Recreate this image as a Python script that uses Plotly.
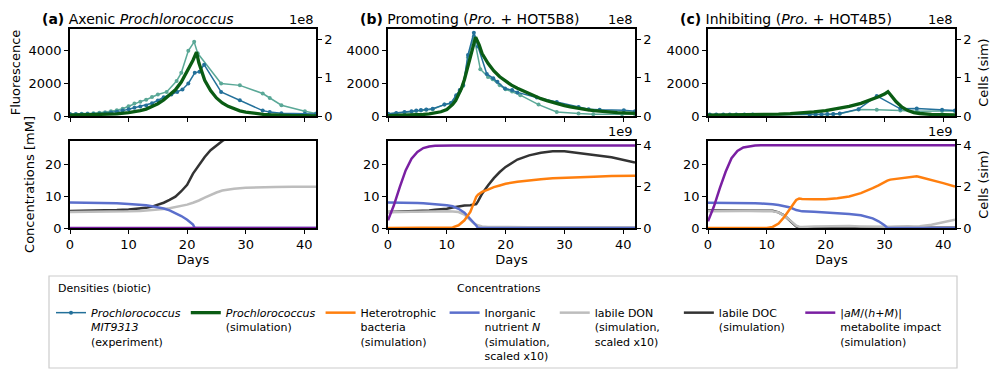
import plotly.graph_objects as go

FONT = "DejaVu Sans"

# colours
COL_EXP1 = "#23709a"
COL_EXP2 = "#5aa897"
COL_PRO = "#0a5c14"
COL_HET = "#ff7f0e"
COL_N = "#5b6fcc"
COL_DON = "#bdbdbd"
COL_DOC = "#333333"
COL_MET = "#7a1fa2"

# ---- top row: fluorescence (experiment, two replicates) and simulated cells (1e8) ----
A_EXP1_DAY = [0, 1, 2, 3, 4, 5, 6, 7, 8, 9, 10, 11, 12, 13, 14, 15, 16, 17.3, 18.3, 19.2, 20.2, 21.3,
              22.1, 22.9, 25.8, 29.0, 32.9, 34.1, 36.1, 40.1, 42]
A_EXP1 = [110, 110, 115, 120, 130, 145, 170, 210, 260, 330, 410, 500, 580, 650, 780, 950, 1150, 1320, 1480,
          1630, 2000, 2650, 2720, 3150, 1480, 970, 330, 250, 170, 140, 130]
A_EXP2_DAY = [0, 1, 2, 3, 4, 5, 6, 7, 8, 9, 10, 11, 12, 13, 14, 15, 16.5, 18.2, 19.0, 20.2, 21.2, 21.8,
              25.8, 29.0, 32.9, 34.1, 36.1, 40.1, 42]
A_EXP2 = [130, 130, 140, 150, 165, 200, 230, 290, 360, 450, 600, 760, 880, 1000, 1170, 1320, 1480, 2150,
          2650, 4000, 4550, 3850, 2000, 1880, 1380, 1100, 660, 290, 160]

B_EXP1_DAY = [0, 1.4, 2.8, 4.0, 4.8, 5.6, 6.5, 7.6, 9.6, 10.7, 11.6, 12.2, 12.8, 13.6, 14.6, 15.3, 16.8,
              17.9, 18.6, 19.9, 21.1, 22.0, 25.3, 28.7, 32.4, 34.1, 36.0, 40.1, 42]
B_EXP1 = [145, 185, 250, 290, 330, 370, 400, 450, 700, 800, 1280, 1600, 1900, 3750, 5110, 4270, 2580,
          2310, 2100, 1690, 1590, 1450, 1140, 865, 556, 414, 380, 352, 290]
B_EXP2_DAY = [0, 1.4, 2.8, 4.0, 4.8, 5.6, 6.5, 7.6, 9.6, 10.7, 11.6, 12.2, 12.8, 13.6, 14.6, 15.7, 17.0,
              17.8, 19.0, 20.0, 21.1, 22.5, 25.6, 28.7, 32.4, 34.9, 39.8, 42]
B_EXP2 = [120, 150, 210, 260, 300, 340, 380, 420, 700, 780, 1200, 1550, 1850, 3600, 4900, 2870, 2400,
          2250, 1880, 1640, 1500, 1280, 700, 250, 150, 110, 110, 110]

C_EXP1_DAY = [0.3, 1.4, 2.6, 3.7, 4.8, 6.2, 7.6, 17.3, 18.3, 19.3, 20.3, 21.3, 22.4, 25.6, 28.7, 32.7,
              35.5, 39.8, 42]
C_EXP1 = [90, 95, 90, 90, 85, 90, 85, 100, 100, 110, 120, 130, 150, 420, 1230, 440, 460, 380, 340]
C_EXP2_DAY = C_EXP1_DAY
C_EXP2 = [60, 60, 60, 55, 55, 55, 55, 70, 75, 80, 90, 110, 140, 400, 390, 330, 290, 300, 300]

A_SIM_DAY = [0, 2, 4, 6, 8, 10, 11, 12, 13, 14, 15, 16, 17, 18, 19, 20, 21, 21.6, 22, 23, 24, 25, 26,
             27, 28, 29, 30, 31, 32, 33, 34, 35, 36, 38, 40, 42]
A_SIM = [0.02, 0.025, 0.03, 0.04, 0.055, 0.085, 0.105, 0.14, 0.18, 0.24, 0.32, 0.42, 0.54, 0.68, 0.88,
         1.15, 1.45, 1.66, 1.38, 0.93, 0.66, 0.47, 0.34, 0.25, 0.185, 0.135, 0.10, 0.075, 0.055, 0.042,
         0.032, 0.024, 0.018, 0.01, 0.006, 0.004]
B_SIM_DAY = [0, 1, 2, 3, 4, 5, 6, 7, 8, 9, 10, 11, 11.5, 12, 12.5, 13, 13.5, 14, 14.5, 14.9, 15.5, 16,
             17, 18, 19, 20, 21, 22, 23, 24, 25, 26, 27, 28, 29, 30, 31, 32, 33, 34, 35, 36, 37, 38,
             39, 40, 41, 42]
B_SIM = [0.01, 0.012, 0.015, 0.019, 0.024, 0.03, 0.04, 0.055, 0.075, 0.11, 0.17, 0.30, 0.40, 0.54,
         0.72, 0.95, 1.25, 1.55, 1.85, 2.05, 1.85, 1.62, 1.37, 1.17, 1.02, 0.90, 0.80, 0.72, 0.65, 0.57,
         0.51, 0.45, 0.40, 0.35, 0.31, 0.27, 0.235, 0.205, 0.18, 0.157, 0.137, 0.12, 0.105, 0.095,
         0.087, 0.08, 0.075, 0.07]
C_SIM_DAY = [0, 2, 4, 6, 8, 10, 12, 14, 16, 18, 20, 22, 24, 26, 27, 28, 29, 30, 30.6, 31, 32, 33, 34,
             35, 36, 38, 40, 42]
C_SIM = [0.02, 0.022, 0.025, 0.028, 0.033, 0.04, 0.05, 0.062, 0.08, 0.105, 0.14, 0.19, 0.25, 0.33,
         0.38, 0.44, 0.50, 0.57, 0.63, 0.56, 0.37, 0.23, 0.14, 0.09, 0.065, 0.04, 0.032, 0.028]

# ---- bottom row: concentrations [mM] and heterotroph cells (1e9) ----
A_CONC_DAY = [0, 2, 4, 6, 8, 10, 12, 13, 14, 15, 16, 17, 18, 19, 20, 21, 21.3, 22, 23, 24, 25, 26, 27,
              28, 30, 32, 35, 38, 42]
A_N = [8.0, 7.95, 7.9, 7.8, 7.7, 7.5, 7.3, 7.1, 6.8, 6.5, 6.1, 5.5, 4.7, 3.75, 2.6, 1.1, 0, 0, 0, 0, 0,
       0, 0, 0, 0, 0, 0, 0, 0]
A_DON = [5.0, 5.0, 5.05, 5.1, 5.15, 5.2, 5.35, 5.45, 5.6, 5.75, 5.95, 6.2, 6.5, 6.9, 7.3, 7.9, 8.1, 8.6,
         9.5, 10.4, 11.1, 11.7, 12.1, 12.3, 12.6, 12.75, 12.85, 12.9, 12.9]
A_DOC = [5.3, 5.35, 5.4, 5.5, 5.6, 5.8, 6.0, 6.3, 6.7, 7.2, 7.9, 8.8, 9.8, 11.5, 13.5, 17.0, 17.8, 19.8,
         22.2, 24.3, 25.8, 27.2, 28.3, 29.2, 30.5, 31.3, 31.8, 32.0, 32.0]
A_MET = [0] * 29

B_CONC_DAY = [0, 1, 2, 3, 4, 5, 6, 7, 8, 9, 10, 11, 12, 13, 14, 14.5, 15, 15.3, 16, 17, 18, 19, 20, 22,
              24, 26, 28, 30, 32, 35, 38, 42]
B_MET = [2.4, 7.1, 12.8, 18.0, 21.7, 23.8, 25.0, 25.5, 25.7, 25.8, 25.8, 25.8, 25.8, 25.8, 25.8, 25.8,
         25.8, 25.8, 25.8, 25.8, 25.8, 25.8, 25.8, 25.8, 25.8, 25.8, 25.8, 25.8, 25.8, 25.8, 25.8, 25.8]
B_DOC = [5.0, 5.05, 5.1, 5.15, 5.2, 5.3, 5.4, 5.5, 5.7, 5.85, 6.0, 6.4, 6.8, 7.0, 7.1, 7.2, 7.5, 8.3,
         10.7, 13.3, 15.6, 17.5, 19.1, 21.4, 22.7, 23.5, 24.0, 24.0, 23.5, 22.9, 22.1, 20.5]
B_HET = [0, 0, 0, 0, 0, 0, 0, 0, 0, 0, 0, 0.03, 0.13, 0.37, 0.77, 1.18, 1.5, 1.6, 1.74, 1.85, 1.97, 2.05,
         2.13, 2.23, 2.30, 2.35, 2.39, 2.42, 2.45, 2.47, 2.5, 2.52]
B_N = [8.0, 8.0, 7.95, 7.9, 7.85, 7.8, 7.7, 7.6, 7.5, 7.3, 7.1, 6.8, 6.0, 4.8, 2.9, 1.9, 0.8, 0, 0, 0, 0,
       0, 0, 0, 0, 0, 0, 0, 0, 0, 0, 0]
B_DON = [4.9, 5.0, 5.0, 5.05, 5.1, 5.1, 5.15, 5.2, 5.2, 5.2, 5.2, 5.15, 5.0, 4.2, 2.4, 1.6, 1.0, 0.8,
         0.5, 0.35, 0.3, 0.28, 0.25, 0.25, 0.22, 0.22, 0.2, 0.2, 0.2, 0.2, 0.2, 0.2]

C_CONC_DAY = [0, 1, 2, 3, 4, 5, 6, 7, 8, 9, 10, 11, 12, 13, 14, 15, 15.5, 16, 18, 20, 22, 24, 26, 27,
              28, 29, 30, 30.5, 31, 32, 33, 34, 35, 35.5, 36, 38, 40, 42]
C_MET = [2.1, 6.7, 12.4, 17.6, 21.8, 24.1, 25.2, 25.6, 25.8, 25.9, 25.9, 25.9, 25.9, 25.9, 25.9, 25.9,
         25.9, 25.9, 25.9, 25.9, 25.9, 25.9, 25.9, 25.9, 25.9, 25.9, 25.9, 25.9, 25.9, 25.9, 25.9, 25.9,
         25.9, 25.9, 25.9, 25.9, 25.9, 25.9]
C_HET = [0, 0, 0, 0, 0, 0, 0, 0, 0, 0, 0, 0.05, 0.21, 0.54, 0.94, 1.35, 1.42, 1.40, 1.38, 1.38, 1.43,
         1.52, 1.68, 1.79, 1.92, 2.05, 2.22, 2.28, 2.33, 2.37, 2.41, 2.45, 2.48, 2.49, 2.46, 2.32, 2.16,
         2.0]
C_N = [7.9, 7.9, 7.9, 7.85, 7.85, 7.8, 7.8, 7.75, 7.7, 7.65, 7.6, 7.45, 7.2, 6.85, 6.4, 5.6, 5.3, 5.2,
       5.05, 4.9, 4.7, 4.4, 4.0, 3.6, 3.0, 2.1, 0.9, 0, 0, 0, 0, 0, 0, 0, 0, 0, 0, 0]
C_DON = [5.2, 5.25, 5.25, 5.25, 5.3, 5.3, 5.3, 5.3, 5.3, 5.3, 5.3, 5.2, 4.9, 3.8, 2.3, 0.7, 0.4, 0.3,
         0.5, 0.6, 0.6, 0.6, 0.5, 0.45, 0.35, 0.3, 0.25, 0.3, 0.4, 0.5, 0.6, 0.55, 0.5, 0.5, 0.55, 1.0,
         1.8, 2.6]
C_DOC = [5.5, 5.5, 5.5, 5.5, 5.5, 5.5, 5.5, 5.5, 5.5, 5.5, 5.5, 5.4, 4.9, 3.9, 2.2, 0.5, 0.2, 0.1, 0.1,
         0.1, 0.1, 0.1, 0.1, 0.1, 0.1, 0.1, 0.1, 0.1, 0.1, 0.1, 0.1, 0.1, 0.1, 0.1, 0.1, 0.1, 0.1, 0.1]

TITLES = [
    "<b>(a)</b> Axenic <i>Prochlorococcus</i>",
    "<b>(b)</b> Promoting (<i>Pro.</i> + HOT5B8)",
    "<b>(c)</b> Inhibiting (<i>Pro.</i> + HOT4B5)",
]

NB = "\u00a0"
LEG_EXP = "<i>Prochlorococcus</i><br><i>MIT9313</i><br>(experiment)"
LEG_PRO = "<i>Prochlorococcus</i><br>(simulation)"
LEG_HET = "Heterotrophic" + NB + "<br>bacteria<br>(simulation)"
LEG_N = "Inorganic<br>nutrient <i>N</i><br>(simulation,<br>scaled x10)"
LEG_DON = "labile DON<br>(simulation," + NB * 4 + "<br>scaled x10)"
LEG_DOC = "labile DOC<br>(simulation)" + NB * 3
LEG_MET = "|<i>aM</i>/(<i>h</i>+<i>M</i>)|<br>metabolite impact<br>(simulation)"

# Everything below is measured in reference pixels (1000 x 380 window).
# The page body has an 8px margin, so the figure itself is offset by PAD.
PAD = 8
PLOT_L, PLOT_R, PLOT_T, PLOT_B = 70, 955, 29, 228
W, H = 984, 364
PANEL_X = [(70, 316), (388, 635), (708, 955)]
TOP_Y = (29, 116)
BOT_Y = (141, 228)


def px(x):
    return (x - PLOT_L) / (PLOT_R - PLOT_L)


def py(y):
    return (PLOT_B - y) / (PLOT_B - PLOT_T)


def axis_style(**kw):
    base = dict(
        showgrid=False, zeroline=False, showline=True, linecolor="black", linewidth=1.5,
        ticks="outside", ticklen=4, tickwidth=1, tickcolor="black",
        tickfont=dict(family=FONT, size=13, color="black"),
    )
    base.update(kw)
    return base


def line(x, y, xa, ya, color, width, name=None, rank=None, markers=False):
    return go.Scatter(
        x=x, y=y, xaxis=xa, yaxis=ya,
        mode="lines+markers" if markers else "lines",
        line=dict(color=color, width=width),
        marker=dict(size=4, color=color),
        name=name or "", showlegend=name is not None,
        legendrank=rank if rank else 1000,
    )


def build_fig():
    fig = go.Figure()

    tops = [
        (A_EXP1_DAY, A_EXP1, A_EXP2_DAY, A_EXP2, A_SIM_DAY, A_SIM),
        (B_EXP1_DAY, B_EXP1, B_EXP2_DAY, B_EXP2, B_SIM_DAY, B_SIM),
        (C_EXP1_DAY, C_EXP1, C_EXP2_DAY, C_EXP2, C_SIM_DAY, C_SIM),
    ]
    for i, (d1, v1, d2, v2, ds, vs) in enumerate(tops):
        xa = "x" if i == 0 else f"x{i + 1}"
        ya = "y" if i == 0 else f"y{i + 1}"
        yr = f"y{i + 7}"
        first = i == 0
        fig.add_trace(line(d2, v2, xa, ya, COL_EXP2, 1.5, markers=True))
        fig.add_trace(line(d1, v1, xa, ya, COL_EXP1, 1.5, name=LEG_EXP if first else None, rank=1,
                           markers=True))
        fig.add_trace(line(ds, vs, xa, yr, COL_PRO, 3.3, name=LEG_PRO if first else None, rank=2))

    # bottom a
    fig.add_trace(line(A_CONC_DAY, A_DOC, "x4", "y4", COL_DOC, 2.5, name=LEG_DOC, rank=6))
    fig.add_trace(line(A_CONC_DAY, A_DON, "x4", "y4", COL_DON, 2.5, name=LEG_DON, rank=5))
    fig.add_trace(line(A_CONC_DAY, A_N, "x4", "y4", COL_N, 2.5, name=LEG_N, rank=4))
    fig.add_trace(line(A_CONC_DAY, A_MET, "x4", "y4", COL_MET, 2.5))
    # bottom b
    fig.add_trace(line(B_CONC_DAY, B_DOC, "x5", "y5", COL_DOC, 2.5))
    fig.add_trace(line(B_CONC_DAY, B_DON, "x5", "y5", COL_DON, 2.5))
    fig.add_trace(line(B_CONC_DAY, B_N, "x5", "y5", COL_N, 2.5))
    fig.add_trace(line(B_CONC_DAY, B_MET, "x5", "y5", COL_MET, 2.5, name=LEG_MET, rank=7))
    fig.add_trace(line(B_CONC_DAY, B_HET, "x5", "y10", COL_HET, 2.5, name=LEG_HET, rank=3))
    # bottom c
    fig.add_trace(line(C_CONC_DAY, C_DOC, "x6", "y6", COL_DOC, 2.5))
    fig.add_trace(line(C_CONC_DAY, C_DON, "x6", "y6", COL_DON, 2.5))
    fig.add_trace(line(C_CONC_DAY, C_N, "x6", "y6", COL_N, 2.5))
    fig.add_trace(line(C_CONC_DAY, C_MET, "x6", "y6", COL_MET, 2.5))
    fig.add_trace(line(C_CONC_DAY, C_HET, "x6", "y11", COL_HET, 2.5))

    tf = dict(family=FONT, size=13, color="black")
    lay = {}
    xt = dict(range=[0, 42], tickvals=[0, 10, 20, 30, 40], mirror=True)
    for i, (a, b) in enumerate(PANEL_X):
        k_top = "" if i == 0 else str(i + 1)
        k_bot = str(i + 4)
        dom = [px(a), px(b)]
        lay[f"xaxis{k_top}"] = axis_style(domain=dom, anchor=f"y{k_top}", showticklabels=False, **xt)
        lay[f"xaxis{k_bot}"] = axis_style(domain=dom, anchor=f"y{k_bot}",
                                          title=dict(text="Days", standoff=2, font=tf), **xt)
        lay[f"yaxis{k_top}"] = axis_style(domain=[py(TOP_Y[1]), py(TOP_Y[0])], anchor=f"x{k_top}",
                                          range=[0, 5340], tickvals=[0, 2000, 4000], mirror=True)
        lay[f"yaxis{k_bot}"] = axis_style(domain=[py(BOT_Y[1]), py(BOT_Y[0])], anchor=f"x{k_bot}",
                                          range=[0, 27.2], tickvals=[0, 10, 20], mirror=True)
        lay[f"yaxis{i + 7}"] = axis_style(overlaying=f"y{k_top}", anchor=f"x{k_top}", side="right",
                                          range=[0, 2.26], tickvals=[0, 1, 2])
    for n, ov, ax in [(10, "y5", "x5"), (11, "y6", "x6")]:
        lay[f"yaxis{n}"] = axis_style(overlaying=ov, anchor=ax, side="right", range=[0, 4.19],
                                      tickvals=[0, 2, 4])

    lay["yaxis"]["title"] = dict(text="Fluorescence", font=tf, standoff=6)
    lay["yaxis4"]["title"] = dict(text="Concentrations [mM]", font=tf, standoff=8)
    lay["yaxis9"]["title"] = dict(text="Cells (sim)", font=tf, standoff=8)
    lay["yaxis11"]["title"] = dict(text="Cells (sim)", font=tf, standoff=8)

    ann = []
    for i, t in enumerate(TITLES):
        k = "" if i == 0 else str(i + 1)
        ann.append(dict(text=t, xref=f"x{k} domain", yref=f"y{k} domain", x=0, y=1, xshift=-30,
                        xanchor="left", yanchor="bottom", showarrow=False,
                        font=dict(family=FONT, size=14, color="black")))
        ann.append(dict(text="1e8", xref=f"x{k} domain", yref=f"y{k} domain", x=1, y=1,
                        xanchor="right", yanchor="bottom", showarrow=False, font=tf))
    for k in ["5", "6"]:
        ann.append(dict(text="1e9", xref=f"x{k} domain", yref=f"y{k} domain", x=1, y=1,
                        xanchor="right", yanchor="bottom", showarrow=False, font=tf))
    lf = dict(family=FONT, size=11, color="black")
    ann.append(dict(text="Densities (biotic)", xref="paper", yref="paper", x=px(56), y=py(288),
                    xanchor="left", yanchor="middle", showarrow=False, font=lf))
    ann.append(dict(text="Concentrations", xref="paper", yref="paper", x=px(455), y=py(288),
                    xanchor="left", yanchor="middle", showarrow=False, font=lf))

    legend_box = dict(type="rect", xref="paper", yref="paper", x0=px(49), x1=px(957),
                      y0=py(368), y1=py(276), line=dict(color="#cccccc", width=1.2),
                      fillcolor="rgba(0,0,0,0)", layer="below")

    fig.update_layout(
        width=W, height=H,
        margin=dict(l=PLOT_L - PAD, r=PAD + W - PLOT_R, t=PLOT_T - PAD, b=PAD + H - PLOT_B,
                    autoexpand=False),
        paper_bgcolor="white", plot_bgcolor="white",
        font=dict(family=FONT, size=13, color="black"),
        annotations=ann,
        shapes=[legend_box],
        legend=dict(
            orientation="h", x=px(51), y=py(299),
            xanchor="left", yanchor="top", valign="top", traceorder="normal",
            font=lf, borderwidth=0, bgcolor="rgba(0,0,0,0)",
        ),
        **lay,
    )
    return fig


def main():
    fig = build_fig()
    fig.write_html("out.html")


if __name__ == "__main__":
    main()
